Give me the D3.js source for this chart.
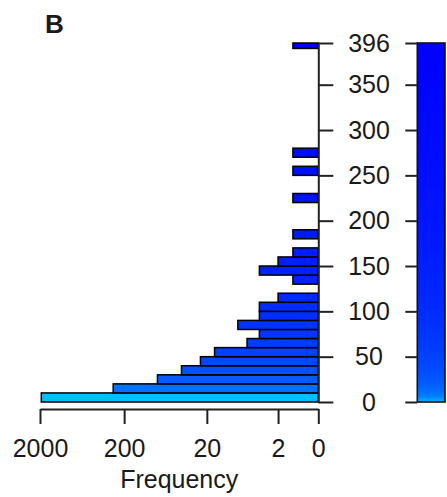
<!DOCTYPE html>
<html>
<head>
<meta charset="utf-8">
<script src="https://cdn.jsdelivr.net/npm/d3@7"></script>
<style>
  html, body { margin: 0; padding: 0; background: #fff; }
  svg { display: block; }
  text { font-family: "Liberation Sans", Arial, sans-serif; fill: #1a1a1a; }
</style>
</head>
<body>
<svg id="chart" width="447" height="497"></svg>
<script>
// Histogram bins (lower / upper edge of each bin) and their counts
const binStart = [0, 10, 20, 30, 40, 50, 60, 70, 80, 90, 100, 110, 130, 140, 150, 160, 180, 220, 250, 270, 390];
const binEnd   = [10, 20, 30, 40, 50, 60, 70, 80, 90, 100, 110, 120, 140, 150, 160, 170, 190, 230, 260, 280, 396];
const counts   = [1930, 270, 80, 41, 24, 16, 6, 4, 8, 4, 4, 2, 1, 4, 2, 1, 1, 1, 1, 1, 1];

// Axis tick values
const freqTicks = [2000, 200, 20, 2, 0];
const valueTicks = [0, 50, 100, 150, 200, 250, 300, 350, 396];
const valueMax = 396;

const svg = d3.select("#chart");

// Frequency axis runs right-to-left on a log(1 + n) scale
const x = d3.scaleSymlog().constant(1).domain([0, 2000]).range([318.3, 40]);
const y = d3.scaleLinear().domain([0, valueMax]).range([402, 43]);

// Colour ramp: light sky blue at 0 to pure blue at the top, log-spaced
const colorT = d3.scaleSymlog().constant(1).domain([0, valueMax]).range([0, 1]);
const ramp = d3.interpolateRgb("#00BFFF", "#0000FF");
const colorOf = v => ramp(colorT(v));

const bins = binStart.map((s, i) => ({ s, e: binEnd[i], n: counts[i] }));

// Bars
svg.append("g")
  .selectAll("rect")
  .data(bins)
  .join("rect")
  .attr("x", d => x(d.n))
  .attr("y", d => y(d.e))
  .attr("width", d => x(0) - x(d.n))
  .attr("height", d => y(d.s) - y(d.e))
  .attr("fill", d => colorOf(d.s))
  .attr("stroke", "#000")
  .attr("stroke-width", 1.5);

// Frequency axis (bottom)
const xAxis = svg.append("g")
  .attr("transform", "translate(0,409)")
  .call(d3.axisBottom(x).tickValues(freqTicks).tickFormat(d3.format("d")).tickSize(15).tickSizeOuter(0).tickPadding(15));
xAxis.select(".domain").attr("stroke", "#222").attr("stroke-width", 2);
xAxis.selectAll(".tick line").attr("stroke", "#222").attr("stroke-width", 2);
xAxis.selectAll(".tick text").attr("font-size", 25).attr("fill", "#1a1a1a")
  .attr("font-family", "Liberation Sans, Arial, sans-serif");

// Value axis (right of the bars)
const yAxis = svg.append("g")
  .attr("transform", "translate(318.3,0)")
  .call(d3.axisRight(y).tickValues(valueTicks).tickSize(15).tickSizeOuter(0));
yAxis.select(".domain").attr("stroke", "#222").attr("stroke-width", 2);
yAxis.selectAll(".tick line").attr("stroke", "#222").attr("stroke-width", 2);
yAxis.selectAll(".tick text")
  .attr("x", 50.7)
  .attr("text-anchor", "middle")
  .attr("font-size", 25).attr("fill", "#1a1a1a")
  .attr("font-family", "Liberation Sans, Arial, sans-serif");

// Colour bar
const defs = svg.append("defs");
const grad = defs.append("linearGradient")
  .attr("id", "cbar")
  .attr("x1", 0).attr("y1", 1).attr("x2", 0).attr("y2", 0);
d3.range(0, 81).forEach(i => {
  const v = valueMax * i / 80;
  grad.append("stop")
    .attr("offset", v / valueMax)
    .attr("stop-color", colorOf(v));
});

svg.append("rect")
  .attr("x", 417.3)
  .attr("y", y(valueMax))
  .attr("width", 27.7)
  .attr("height", y(0) - y(valueMax))
  .attr("fill", "url(#cbar)")
  .attr("stroke", "#111")
  .attr("stroke-width", 1.6);

const cAxis = svg.append("g")
  .attr("transform", "translate(417.3,0)")
  .call(d3.axisLeft(y).tickValues(valueTicks).tickSize(12).tickFormat(""));
cAxis.select(".domain").remove();
cAxis.selectAll(".tick line").attr("stroke", "#222").attr("stroke-width", 2);

// Axis title and panel letter
svg.append("text")
  .attr("x", 179.2)
  .attr("y", 488)
  .attr("text-anchor", "middle")
  .attr("font-size", 25)
  .text("Frequency");

svg.append("text")
  .attr("x", 45)
  .attr("y", 33)
  .attr("font-size", 26)
  .attr("font-weight", "bold")
  .text("B");
</script>
</body>
</html>
